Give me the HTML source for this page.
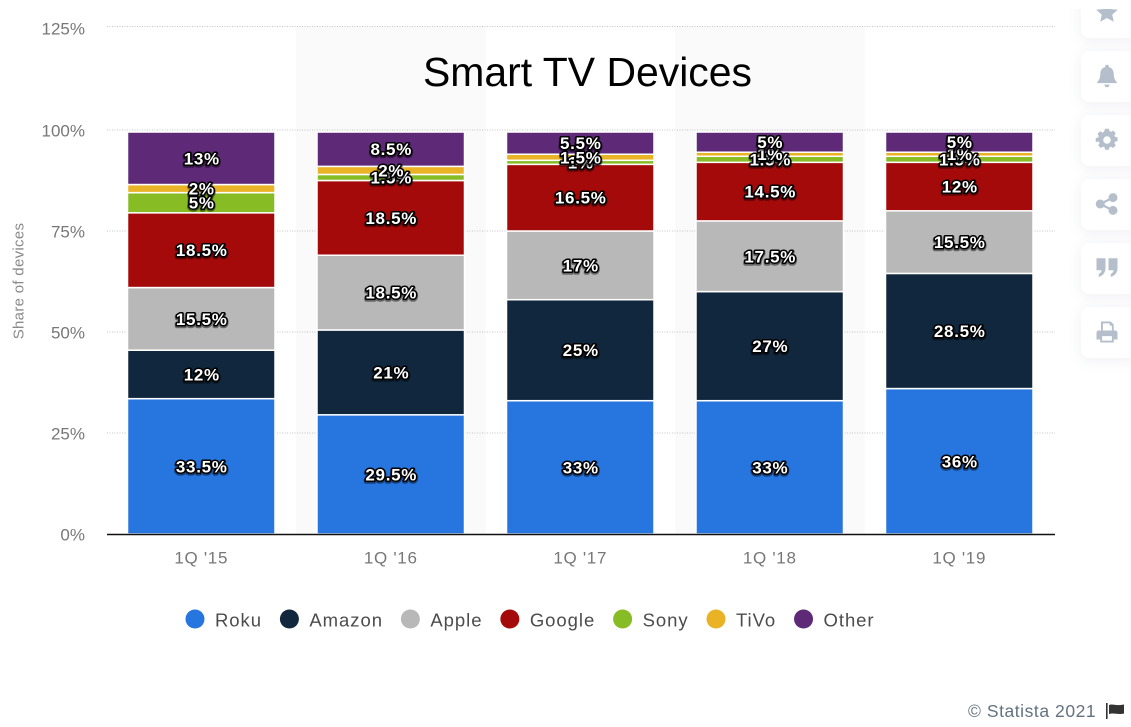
<!DOCTYPE html>
<html lang="en">
<head>
<meta charset="utf-8">
<title>Smart TV Devices</title>
<style>
html,body{margin:0;padding:0;background:#fff;width:1131px;height:727px;overflow:hidden;font-family:"Liberation Sans",sans-serif}
#stage{position:relative;width:1131px;height:727px;overflow:hidden}
#chart{position:absolute;left:0;top:0}
#sidebar{position:absolute;left:1040px;top:9px;width:91px;height:380px;overflow:hidden}
.card{position:absolute;left:41px;width:60px;height:51px;background:#fff;border-radius:8px;box-shadow:0 2px 14px rgba(90,110,140,.10);display:block}
.card svg{position:absolute;left:14px;top:13px;width:24px;height:24px;fill:#b5bfcb}
.data-label{font:bold 17px "Liberation Sans",sans-serif;letter-spacing:.7px;fill:#fff;stroke:#000;stroke-width:3px;paint-order:stroke;stroke-linejoin:round;text-anchor:middle;dominant-baseline:central}
</style>
</head>
<body>
<div id="stage">
<svg id="chart" width="1131" height="727" viewBox="0 0 1131 727"></svg>
<div id="sidebar">
  <div class="card" style="top:-22px"><svg viewBox="0 0 32 32"><polygon points="16,3 20,12 30.500,13 23,19.500 25,29 16,24 7,29 9,19.500 1.500,13 12,12"/></svg></div>
  <div class="card" style="top:42px"><svg viewBox="0 0 32 32"><path d="M16 1a2.500 2.500 0 0 1 2.500 2.500v.6c4.500 1 6.500 4.800 6.500 9.400 0 5 1.500 8 4 10.500v1.500H3V24c2.500-2.500 4-5.500 4-10.500 0-4.600 2-8.400 6.500-9.400v-.6A2.500 2.500 0 0 1 16 1zM12.500 27.500h7a3.500 3.500 0 0 1-7 0z"/></svg></div>
  <div class="card" style="top:106px"><svg viewBox="0 0 32 32"><path fill-rule="evenodd" d="M13.500 1h5l.7 3.200 2.200.9 2.800-1.800 3.500 3.500-1.800 2.800.9 2.200 3.200.7v5l-3.200.7-.9 2.200 1.800 2.800-3.500 3.500-2.800-1.800-2.200.9-.7 3.200h-5l-.7-3.200-2.200-.9-2.800 1.800-3.500-3.500 1.800-2.800-.9-2.200L1 18.500v-5l3.200-.7.900-2.200L3.300 7.800 6.800 4.300l2.800 1.800 2.200-.9z M16 11a5 5 0 1 0 0 10 5 5 0 0 0 0-10z"/></svg></div>
  <div class="card" style="top:170px"><svg viewBox="0 0 32 32"><circle cx="24" cy="7.500" r="6"/><circle cx="24" cy="24.500" r="6"/><circle cx="7" cy="16" r="6"/><path d="M7 16L24 7.500M7 16l17 8.500" stroke="#b5bfcb" stroke-width="3" fill="none"/></svg></div>
  <div class="card" style="top:234px"><svg viewBox="0 0 32 32"><path d="M2 3h12v13c0 6-3 10-9 12v-4c2-.8 3.500-2.500 3.700-5H2zM18 3h12v13c0 6-3 10-9 12v-4c2-.8 3.500-2.500 3.700-5H18z"/></svg></div>
  <div class="card" style="top:298px"><svg viewBox="0 0 32 32"><path fill-rule="evenodd" d="M8 2h13l4 4v8h2a3 3 0 0 1 3 3v9h-5v4H7v-4H2v-9a3 3 0 0 1 3-3h3zM10.500 4.500V14h12V7.500h-3v-3zM9.500 21.500v6h13v-6z"/></svg></div>
</div>
</div>
<script>
// ---- chart data ----
const categories = ["1Q '15", "1Q '16", "1Q '17", "1Q '18", "1Q '19"];
const seriesNames = ["Roku", "Amazon", "Apple", "Google", "Sony", "TiVo", "Other"];
const rokuValues = [33.5, 29.5, 33, 33, 36];
const amazonValues = [12, 21, 25, 27, 28.5];
const appleValues = [15.5, 18.5, 17, 17.5, 15.5];
const googleValues = [18.5, 18.5, 16.5, 14.5, 12];
const sonyValues = [5, 1.5, 1, 1.5, 1.5];
const tivoValues = [2, 2, 1.5, 1, 1];
const otherValues = [13, 8.5, 5.5, 5, 5];
const yTicks = [0, 25, 50, 75, 100, 125];
const seriesColors = ["#2775de", "#10273e", "#b8b8b8", "#a50a0a", "#88bc24", "#eab326", "#5e2a78"];

const allSeries = [rokuValues, amazonValues, appleValues, googleValues, sonyValues, tivoValues, otherValues];

// ---- axis functions ----
function yScale(v) {
  if (v <= 100) return 534 - v * 4.04;
  return 130 - (v - 100) * 4.14;
}
function xCenter(i) {
  return 201.25 + i * 189.5;
}
const bandWidth = 189.5;
const barWidth = 147.5;

const svgNS = "http://www.w3.org/2000/svg";
const chart = document.getElementById("chart");
function make(tag, attrs, text) {
  const el = document.createElementNS(svgNS, tag);
  for (const k in attrs) el.setAttribute(k, attrs[k]);
  if (text !== undefined) el.textContent = text;
  chart.appendChild(el);
  return el;
}

// alternating bands
categories.forEach(function (c, i) {
  if (i % 2 === 1) {
    const band = make("rect", {x: xCenter(i) - bandWidth / 2, y: yScale(125), width: bandWidth, height: yScale(0) - yScale(125), fill: "#fafafa"});
    
    
  }
});

// gridlines and y tick labels
yTicks.forEach(function (t) {
  if (t > 0) {
    const line = make("line", {x1: 107, x2: 1055, y1: yScale(t), y2: yScale(t), stroke: "#c4c4c4", "stroke-width": 1, "stroke-dasharray": "1 1.5"});
    
    
  }
  const labelY = t === 125 ? yScale(t) + 2.5 : yScale(t) + 1;
  const label = make("text", {x: 85, y: labelY, "text-anchor": "end", "dominant-baseline": "central", "font-size": 17, fill: "#777"}, t + "%");
  
  
});

// bars
categories.forEach(function (c, i) {
  let running = 0;
  allSeries.forEach(function (values, s) {
    const v = values[i];
    const top = yScale(running + v);
    const bottom = yScale(running);
    const seg = make("rect", {x: xCenter(i) - barWidth / 2, y: top, width: barWidth, height: bottom - top, fill: seriesColors[s], stroke: "#fff", "stroke-width": 1.5});
    
    
    running += v;
  });
});

// baseline
const baseline = make("line", {x1: 107, x2: 1055, y1: yScale(0) + .5, y2: yScale(0) + .5, stroke: "#111", "stroke-width": 1.6});



// data labels
categories.forEach(function (c, i) {
  let running = 0;
  allSeries.forEach(function (values, s) {
    const v = values[i];
    const cy = (yScale(running) + yScale(running + v)) / 2 + .5;
    const shadow = make("text", {x: xCenter(i) + .5, y: cy + 1, class: "data-label", style: "stroke:#000;stroke-width:4.500px;opacity:.45"}, v + "%");
    
    
    const lab = make("text", {x: xCenter(i) + .5, y: cy, class: "data-label"}, v + "%");
    
    
    running += v;
  });
});

// x tick labels
categories.forEach(function (c, i) {
  const t = make("text", {x: xCenter(i), y: 558, "text-anchor": "middle", "dominant-baseline": "central", "font-size": 17, "letter-spacing": .7, fill: "#777"}, c);
  
  
});

// y axis title
const yTitle = make("text", {transform: "translate(19 281) rotate(-90)", "text-anchor": "middle", "dominant-baseline": "central", "font-size": 15, "letter-spacing": .3, fill: "#8a8a8a"}, "Share of devices");



// chart title
const title = make("text", {x: 587.5, y: 72, "text-anchor": "middle", "dominant-baseline": "central", "font-size": 41, fill: "#000", textLength: 329, lengthAdjust: "spacingAndGlyphs"}, "Smart TV Devices");



// legend, laid out in flow from measured text widths
let legendX = 185.5;
seriesNames.forEach(function (name, s) {
  const dot = make("ellipse", {cx: legendX + 9.5, cy: 619, rx: 9.5, ry: 9.5, fill: seriesColors[s]});
  
  
  const txt = make("text", {x: legendX + 29.5, y: 620, "dominant-baseline": "central", "font-size": 18.5, "letter-spacing": .95, fill: "#4c4c4c"}, name);
  
  
  legendX += 29.5 + txt.getComputedTextLength() + 17.9;
});

// copyright
const credit = make("text", {x: 968, y: 711, "dominant-baseline": "central", "font-size": 17.5, "letter-spacing": .55, fill: "#62727f"}, "© Statista 2021");


const flagPole = make("rect", {x: 1106, y: 703, width: 1.6, height: 16, fill: "#333"});


const flag = make("path", {d: "M1109 705c4-1.500 6 1.200 15-.5v9c-6 1.500-10-1-15 .5z", fill: "#333"});


</script>
</body>
</html>
